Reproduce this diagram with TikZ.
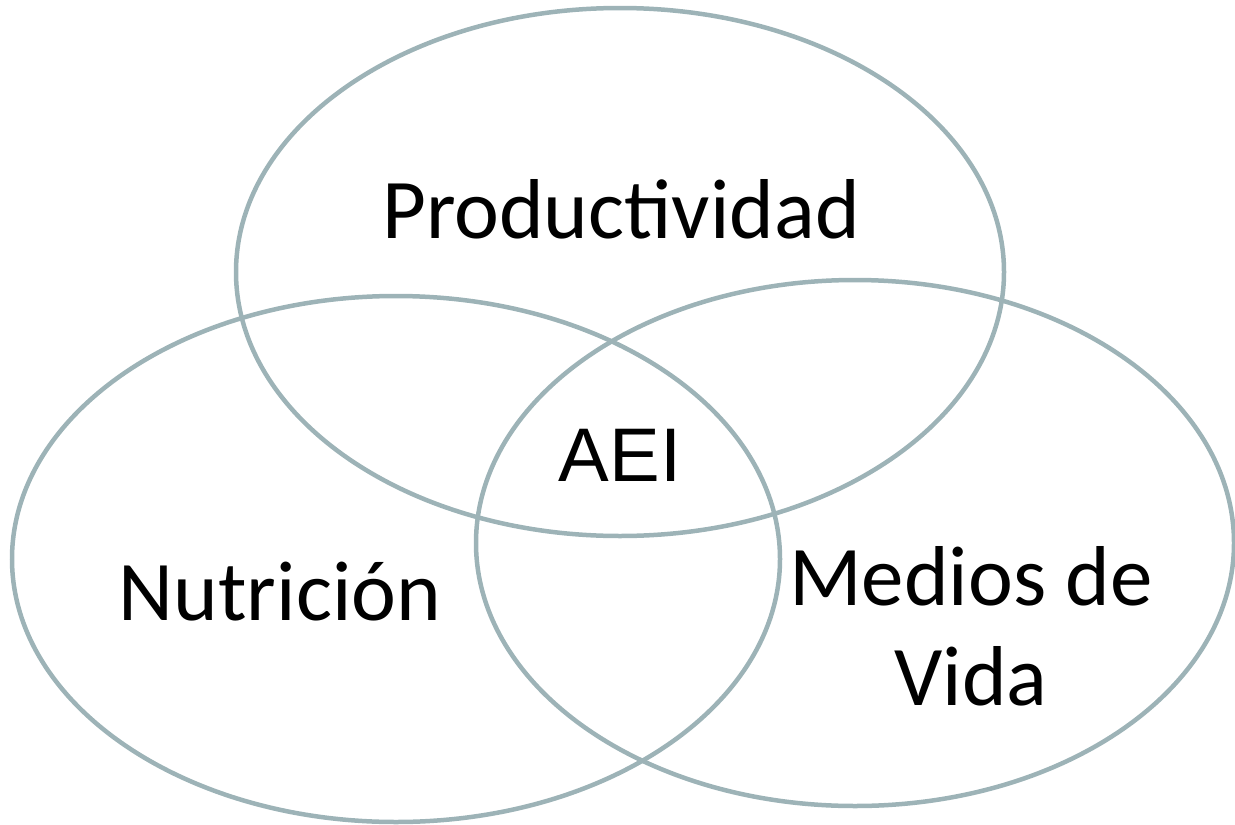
\documentclass[tikz,border=0pt]{standalone}
\usepackage{fontspec}
\setmainfont{Carlito}
\newfontfamily\arialfont{Liberation Sans}
\usetikzlibrary{positioning}
\definecolor{ringgray}{HTML}{9DB3B7}

\begin{document}
\begin{tikzpicture}[x=1pt, y=-1pt,
            ring/.style={draw=ringgray, line width=4.5pt},
            label/.style={inner sep=0pt, anchor=base, font=\fontsize{85}{100}\selectfont}]
        \useasboundingbox (0,0) rectangle (1235,825);
        % the three circles
        \draw[ring] (620,272) ellipse [x radius=384, y radius=264];
        \draw[ring] (396,559) ellipse [x radius=384, y radius=263];
        \draw[ring] (855,543) ellipse [x radius=379, y radius=263];
        % labels
        \node[label] (prod) at (621,238) {Productividad};
        \node[label] (nutri) at (280,620) {Nutrición};
        \node[label] (medios) at (971,605) {Medios de};
        \node[label, below=100pt of medios.base, anchor=base] (vida) {Vida};
        \node[label, font=\arialfont\fontsize{76}{80}\selectfont] (aei) at (620,481) {AEI};
\end{tikzpicture}
\end{document}
